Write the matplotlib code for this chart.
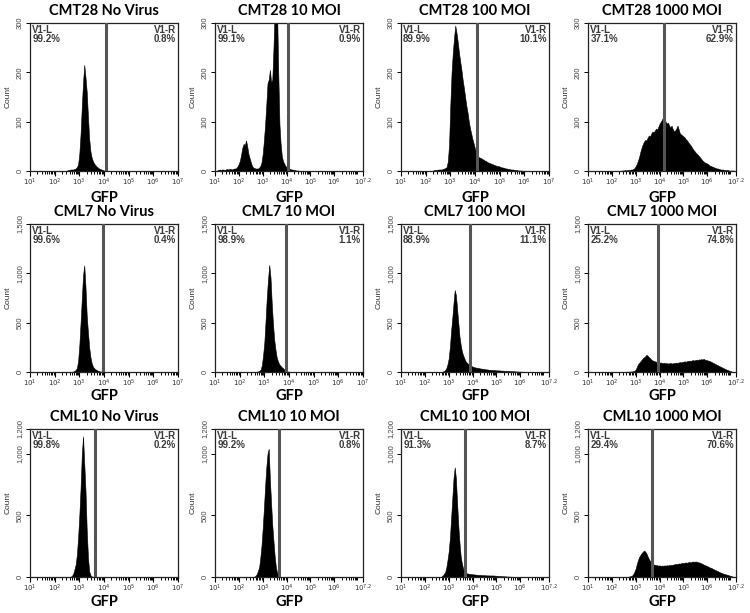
import numpy as np
import matplotlib
matplotlib.use("Agg")
import matplotlib.pyplot as plt
from matplotlib.ticker import FixedLocator, FixedFormatter, LogLocator, NullFormatter

# ---------------- data ----------------
titles = ["CMT28 No Virus", "CMT28 10 MOI", "CMT28 100 MOI", "CMT28 1000 MOI",
          "CML7 No Virus", "CML7 10 MOI", "CML7 100 MOI", "CML7 1000 MOI",
          "CML10 No Virus", "CML10 10 MOI", "CML10 100 MOI", "CML10 1000 MOI"]
left_pct = ["99.2%", "99.1%", "89.9%", "37.1%",
            "99.6%", "98.9%", "88.9%", "25.2%",
            "99.8%", "99.2%", "91.3%", "29.4%"]
right_pct = ["0.8%", "0.9%", "10.1%", "62.9%",
             "0.4%", "1.1%", "11.1%", "74.8%",
             "0.2%", "0.8%", "8.7%", "70.6%"]
gate_log = [4.08, 4.07, 4.1, 4.17,
            3.95, 3.88, 3.9, 3.92,
            3.62, 3.69, 3.69, 3.68]
xmax_log = [7.0, 7.2, 7.0, 7.2,
            7.0, 7.0, 7.2, 7.2,
            7.0, 7.2, 7.2, 7.2]
ymax_row = [300, 1500, 1200]
yticks_row = [[0, 100, 200, 300], [0, 500, 1000, 1500], [0, 500, 1000, 1200]]
ylabels_row = [["0", "100", "200", "300"], ["0", "500", "1,000", "1,500"],
               ["0", "500", "1,000", "1,200"]]

bin_width = 0.05  # decades per histogram bin
hist_start = [2.50, 1.10, 2.30, 2.40,
              2.70, 2.70, 2.75, 2.50,
              2.65, 2.65, 2.70, 2.70]

cmt28_novirus = [1, 2, 2, 3, 3, 3, 4, 5, 8, 13, 35, 75, 130, 180, 215, 190, 160, 110, 65, 40,
                 27, 20, 15, 12, 9, 7, 5, 4, 3, 2, 1]
cmt28_10 = [2, 2, 3, 2, 3, 3, 2, 3, 4, 3, 4, 4, 3, 4, 5, 5, 6,
            10, 15, 22, 35, 48, 55, 52, 62, 50, 35, 26, 18, 10, 7, 6, 5, 5, 5, 7, 10, 18, 35,
            62, 95, 135, 178, 185, 205, 180, 185, 250, 330, 330, 330, 200, 95, 55, 30, 20, 15,
            10, 8, 6, 5, 4, 3, 3, 2, 2, 1, 1, 1]
cmt28_100 = [1, 2, 2, 2, 3, 3, 3, 3, 4, 5, 6,
             8, 20, 55, 135, 200, 240, 270, 295, 280, 262, 240, 222, 205, 185, 168, 150, 132,
             118, 100, 86, 75, 64, 55, 45, 36, 30, 28, 27, 26, 24, 23, 21, 20, 18, 17, 16, 15,
             14, 13, 12, 11, 10, 10, 9, 8, 7, 7, 6, 5, 5, 4, 4, 3, 3, 3, 2, 2, 2, 1, 1, 1, 1]
cmt28_1000 = [1, 1, 1, 2, 1, 2, 2, 2, 3, 3, 4, 6,
              10, 15, 22, 30, 40, 48, 55, 60, 63, 62, 68, 72, 70, 76, 80, 78, 82, 86, 84, 90,
              96, 100, 104, 110, 108, 100, 96, 98, 92, 88, 92, 85, 80, 82, 86, 92, 84, 76, 74,
              72, 70, 68, 64, 62, 58, 55, 52, 48, 44, 41, 38, 35, 33, 30, 27, 24, 21, 19, 17,
              16, 15, 13, 11, 10, 9, 8, 7, 6, 5, 5, 4, 3, 3, 3, 2, 2, 2, 2, 1, 1, 1, 1, 1]
cml7_novirus = [3, 5, 10, 20, 40, 110, 270, 500, 740, 980, 1080, 860, 570, 400, 250, 150, 90,
                55, 38, 28, 20, 12, 8, 5, 3, 2]
cml7_10 = [3, 6, 12, 25, 70, 170, 300, 520, 760, 940, 1085, 960, 700, 490, 330, 230, 150, 110,
           80, 65, 50, 40, 28, 15, 8, 5, 3, 2, 1]
cml7_100 = [5, 10, 20, 40, 80, 140, 260, 420, 550, 700, 830, 780, 640, 500, 360, 275, 210, 170,
            140, 110, 95, 85, 75, 65, 60, 55, 50, 47, 44, 42, 40, 37, 35, 33, 31, 29, 27, 26,
            24, 23, 22, 21, 20, 19, 18, 17, 17, 16, 15, 14, 14, 13, 12, 12, 11, 10, 10, 9, 8,
            7, 7, 6, 5, 5, 4, 4, 3, 3, 2, 2, 2, 1, 1]
cml7_1000 = [2, 2, 3, 3, 4, 4, 5, 6, 8, 12, 25, 55, 80, 95, 110, 125, 140, 150, 160, 175, 165,
             150, 140, 125, 118, 112, 108, 104, 100, 98, 95, 96, 92, 90, 93, 88, 90, 86, 88,
             92, 86, 88, 90, 92, 95, 93, 97, 100, 98, 102, 105, 108, 104, 110, 112, 115, 112,
             118, 120, 116, 122, 125, 120, 128, 126, 130, 128, 132, 125, 122, 118, 115, 110,
             105, 98, 92, 85, 80, 72, 66, 60, 54, 48, 42, 36, 30, 25, 20, 15, 10, 6, 3, 1]
cml10_novirus = [3, 10, 25, 60, 100, 180, 320, 500, 720, 990, 1140, 920, 700, 380, 160, 45, 15,
                 5, 2]
cml10_10 = [3, 10, 25, 50, 80, 160, 260, 400, 560, 740, 890, 1000, 1040, 790, 600, 420, 290,
            170, 80, 35, 10, 3]
cml10_100 = [5, 12, 25, 40, 80, 140, 210, 320, 480, 640, 800, 890, 800, 600, 420, 280, 170,
             110, 70, 45, 35, 30, 28, 26, 24, 23, 22, 21, 20, 19, 18, 17, 17, 16, 15, 15, 14,
             14, 13, 13, 13, 12, 13, 12, 12, 11, 10, 9, 8, 8, 7, 6, 6, 5, 5, 4, 4, 3, 3, 2, 2,
             2, 1]
cml10_1000 = [3, 5, 8, 12, 25, 45, 70, 110, 140, 165, 180, 195, 205, 215, 205, 190, 165, 145,
              130, 120, 110, 102, 98, 96, 95, 92, 94, 90, 93, 91, 94, 92, 95, 93, 97, 98, 96,
              100, 102, 104, 106, 105, 110, 108, 112, 114, 112, 116, 118, 115, 120, 122, 118,
              124, 126, 122, 126, 124, 120, 118, 115, 110, 105, 100, 96, 92, 88, 82, 78, 74,
              70, 64, 60, 55, 50, 46, 40, 36, 32, 28, 25, 22, 20, 17, 14, 10, 7, 4, 2]

counts_all = [cmt28_novirus, cmt28_10, cmt28_100, cmt28_1000,
              cml7_novirus, cml7_10, cml7_100, cml7_1000,
              cml10_novirus, cml10_10, cml10_100, cml10_1000]

# ---------------- layout ----------------
W, H = 750, 613
col_left = [30, 215, 401, 588]
row_top = [23, 224, 429]
ax_w, ax_h = 148, 148
gfp_offset = [27, 24, 25]  # px below each row's axes

fig = plt.figure(figsize=(W / 100, H / 100), dpi=100)
fig.patch.set_facecolor("white")

title_font = dict(family=["Lato", "DejaVu Sans"], weight="bold", size=10.5)
gate_font = dict(family=["Liberation Sans", "DejaVu Sans"], weight="bold", size=7)

for i in range(12):
    r, c = divmod(i, 4)
    ax = fig.add_axes([col_left[c] / W, 1 - (row_top[r] + ax_h) / H, ax_w / W, ax_h / H])
    ax.set_xscale("log")
    xm = xmax_log[i]
    ax.set_xlim(10 ** 1, 10 ** xm)
    ax.set_ylim(0, ymax_row[r])

    cts = np.array(counts_all[i], dtype=float)
    logs = hist_start[i] + bin_width * np.arange(len(cts))
    xs = 10 ** logs
    ax.fill_between(xs, 0, cts, color="black", lw=0.4, edgecolor="black", zorder=2)

    ax.axvline(10 ** gate_log[i], color="#555555", lw=2.2, zorder=3)

    # x ticks
    maj = [1, 2, 3, 4, 5, 6] + ([7] if xm == 7.0 else [7.2])
    ax.xaxis.set_major_locator(FixedLocator([10 ** m for m in maj]))
    labs = [r"$10^{%s}$" % (str(m) if m != int(m) else str(int(m))) for m in maj]
    ax.xaxis.set_major_formatter(FixedFormatter(labs))
    ax.xaxis.set_minor_locator(LogLocator(base=10, subs=np.arange(2, 10), numticks=20))
    ax.xaxis.set_minor_formatter(NullFormatter())
    ax.tick_params(axis="x", which="major", length=3.5, width=0.8, pad=0.5, labelsize=5,
                   labelcolor="#333333", direction="out")
    ax.tick_params(axis="x", which="minor", length=2.5, width=0.7, direction="out")

    # y ticks
    ax.set_yticks(yticks_row[r])
    ax.set_yticklabels(ylabels_row[r], rotation=90, va="center", fontsize=5.5,
                       color="#444444", family=["Liberation Sans", "DejaVu Sans"])
    ax.tick_params(axis="y", length=3, width=0.7, pad=1.5)
    ax.set_ylabel("Count", fontsize=6, color="#333333", labelpad=4,
                  family=["Liberation Sans", "DejaVu Sans"])

    for s in ax.spines.values():
        s.set_linewidth(0.9)
        s.set_color("#222222")

    ax.set_title(titles[i], pad=6, **title_font)
    ax.text(0.5, -gfp_offset[r] / ax_h, "GFP", transform=ax.transAxes, ha="center",
            va="center", **title_font)

    ax.text(0.015, 0.985, "V1-L\n" + left_pct[i], transform=ax.transAxes, ha="left",
            va="top", color="#3a3a3a", linespacing=0.9, **gate_font)
    ax.text(0.985, 0.985, "V1-R\n" + right_pct[i], transform=ax.transAxes, ha="right",
            va="top", color="#3a3a3a", linespacing=0.9, multialignment="right", **gate_font)

fig.savefig("out.png", dpi=100, facecolor="white")
